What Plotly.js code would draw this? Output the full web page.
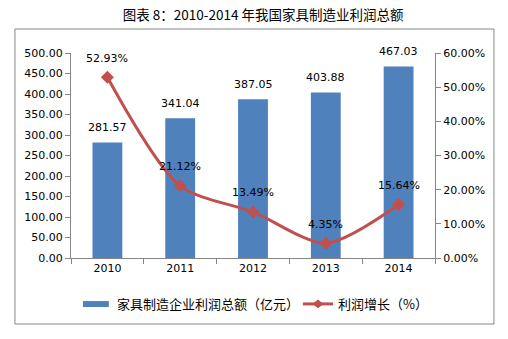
<!DOCTYPE html>
<html><head><meta charset="utf-8">
<script src="https://cdn.plot.ly/plotly-3.0.1.min.js"></script>
<style>html,body{margin:0;padding:0;background:#fff;}#chart{width:508px;height:339px;}</style>
</head><body><div id="chart"></div>
<script>
const years = ['2010','2011','2012','2013','2014'];
const profit = [281.57, 341.04, 387.05, 403.88, 467.03];
const growth = [52.93, 21.12, 13.49, 4.35, 15.64];
const barName = '家具制造企业利润总额（亿元）';
const lineName = '利润增长（%）';
const leftTicks = [0,50,100,150,200,250,300,350,400,450,500];
const rightTicks = [0,10,20,30,40,50,60];

const fnt = () => ({family: 'DejaVu Sans, Verdana, sans-serif', size: 11, color: '#000'});
const cjk = 'Noto Sans CJK SC, sans-serif';
const barColor = '#4F81BD', lineColor = '#C0504D', axisColor = '#868686';

const traces = [
  {type:'bar', x: years, y: profit, name: barName, marker:{color:barColor}, width:0.41, hoverinfo:'none',
   text: profit.map(v=>v.toFixed(2)), textposition:'none'},
  {type:'scatter', mode:'lines+markers', x: years, y: growth, name: lineName, yaxis:'y2',
   line:{color:lineColor, width:3, shape:'spline', smoothing:0.8},
   marker:{symbol:'diamond', size:10, color:lineColor}, hoverinfo:'none'}
];

const annotations = [];
for (let i = 0; i < years.length; i++) {
  annotations.push({x: i, y: profit[i], xref:'x', yref:'y', text: profit[i].toFixed(2), showarrow:false, yshift:15, font: fnt()});
  annotations.push({x: i, y: growth[i], xref:'x', yref:'y2', text: growth[i].toFixed(2)+'%', showarrow:false, yshift:19, font: fnt()});
}
// custom legend text
annotations.push({xref:'paper', yref:'paper', x:0.121, y:-0.224, xanchor:'left', yanchor:'middle', text: barName, showarrow:false, font:{family:cjk, size:13, color:'#000'}});
annotations.push({xref:'paper', yref:'paper', x:0.728, y:-0.224, xanchor:'left', yanchor:'middle', text: lineName, showarrow:false, font:{family:cjk, size:13, color:'#000'}});

const layout = {
  width:508, height:339,
  margin:{l:71, r:73, t:53, b:81},
  paper_bgcolor:'#fff', plot_bgcolor:'#fff',
  font: fnt(),
  title:{text:'图表 8：2010-2014 年我国家具制造业利润总额', font:{family:cjk, size:13.5, color:'#000'}, x:0.518, xanchor:'center', y:0.955, yanchor:'middle'},
  showlegend:false,
  xaxis:{type:'category', showline:true, linecolor:axisColor, linewidth:1, ticks:'outside', tickson:'boundaries', ticklen:5, tickcolor:axisColor, showgrid:false, tickfont:fnt(), range:[-0.5,4.5]},
  yaxis:{range:[0,500], tickvals:leftTicks, ticktext:leftTicks.map(v=>v.toFixed(2)), showline:true, linecolor:axisColor, ticks:'outside', ticklen:5, tickcolor:axisColor, showgrid:false, zeroline:false, tickfont:fnt()},
  yaxis2:{range:[0,60], overlaying:'y', side:'right', tickvals:rightTicks, ticktext:rightTicks.map(v=>v.toFixed(2)+'%'), showline:true, linecolor:axisColor, ticks:'outside', ticklen:5, tickcolor:axisColor, showgrid:false, zeroline:false, tickfont:fnt()},
  annotations: annotations,
  shapes:[
    {type:'rect', xref:'paper', yref:'paper', x0:-0.154, x1:1.162, y0:-0.322, y1:1.117, line:{color:axisColor, width:1}},
    // legend swatches
    {type:'rect', xref:'paper', yref:'paper', x0:0.033, x1:0.104, y0:-0.239, y1:-0.210, fillcolor:barColor, line:{width:0}},
    {type:'line', xref:'paper', yref:'paper', x0:0.637, x1:0.720, y0:-0.224, y1:-0.224, line:{color:lineColor, width:3}},
    {type:'path', xref:'paper', yref:'paper', path:'M 0.6785 -0.2025 L 0.6935 -0.224 L 0.6785 -0.2455 L 0.6635 -0.224 Z', fillcolor:lineColor, line:{width:0}}
  ]
};

Plotly.newPlot('chart', traces, layout, {displayModeBar:false, staticPlot:true});
</script></body></html>
